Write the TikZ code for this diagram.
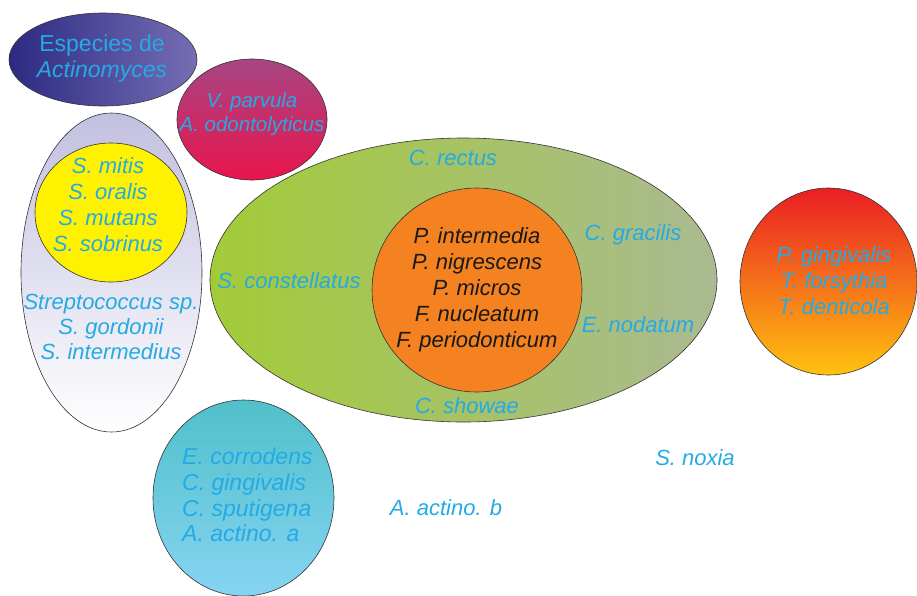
\documentclass[tikz,border=0pt]{standalone}
\usepackage{fontspec}
\setmainfont{Liberation Sans}
\usetikzlibrary{shapes.geometric}
\definecolor{txtcyan}{RGB}{36,170,228}
\definecolor{actL}{RGB}{44,42,130}
\definecolor{actR}{RGB}{118,110,180}
\definecolor{vpT}{RGB}{166,70,132}
\definecolor{vpB}{RGB}{234,20,76}
\definecolor{lav}{RGB}{194,192,224}
\definecolor{yel}{RGB}{255,242,0}
\definecolor{grnL}{RGB}{163,203,56}
\definecolor{grnR}{RGB}{170,186,146}
\definecolor{org}{RGB}{244,130,32}
\definecolor{redT}{RGB}{234,30,36}
\definecolor{redB}{RGB}{255,194,16}
\definecolor{cyT}{RGB}{80,192,202}
\definecolor{cyB}{RGB}{134,212,242}
\tikzset{
  blob/.style={ellipse, draw=black!80, line width=0.6pt, inner sep=0pt},
  lbl/.style={text=txtcyan, font=\fontsize{22}{26}\selectfont\itshape, inner sep=0pt, align=center},
  dlbl/.style={text=black!90, font=\fontsize{22}{26}\selectfont\itshape, inner sep=0pt, align=center}
}
\begin{document}
\begin{tikzpicture}[x=1pt,y=-1pt]
\useasboundingbox (0,0) rectangle (917,595);
\clip (0,0) rectangle (917,595);
% shapes
\node[blob, left color=actL, right color=actR, minimum width=188pt, minimum height=93pt] (act) at (103,59.5) {};
\node[blob, top color=vpT, bottom color=vpB, minimum width=150pt, minimum height=121pt] (vp) at (252,119.5) {};
\node[blob, top color=lav, middle color=white, bottom color=white, minimum width=181pt, minimum height=319pt] (strep) at (111.5,272.5) {};
\node[blob, fill=yel, minimum width=152pt, minimum height=139pt] (yel) at (111,212.5) {};
\node[blob, left color=grnL, right color=grnR, minimum width=507pt, minimum height=284pt] (grn) at (463.5,280) {};
\node[blob, fill=org, minimum width=210pt, minimum height=204pt] (org) at (477,290) {};
\node[blob, top color=redT, bottom color=redB, minimum width=177pt, minimum height=187pt] (red) at (828.5,281.5) {};
\node[blob, top color=cyT, bottom color=cyB, minimum width=181pt, minimum height=196pt] (cy) at (243.5,498) {};
% texts
\node[lbl, font=\fontsize{23}{26}\selectfont] (tact) at (102,59) {Especies de\\\textit{Actinomyces}};
\node[lbl, font=\fontsize{20.5}{23.5}\selectfont\itshape] (tvp) at (252,114) {V. parvula\\A. odontolyticus};
\node[lbl] (tyel) at (108,205) {S. mitis\\S. oralis\\S. mutans\\S. sobrinus};
\node[lbl, font=\fontsize{22}{25}\selectfont\itshape] (tstrep) at (111,327) {Streptococcus sp.\\S. gordonii\\S. intermedius};
\node[dlbl] (torg) at (477,289.5) {P. intermedia\\P. nigrescens\\P. micros\\F. nucleatum\\F. periodonticum};
\node[lbl] (tred) at (834,281) {P. gingivalis\\T. forsythia\\T. denticola};
\node[lbl, font=\fontsize{23}{25.7}\selectfont\itshape, align=left, anchor=west] (tcy) at (182,495) {E. corrodens\\C. gingivalis\\C. sputigena\\A. actino. a};
\node[lbl, anchor=base] (trect) at (453,165) {C. rectus};
\node[lbl, anchor=base] (tgrac) at (633,240) {C. gracilis};
\node[lbl, anchor=base] (tcons) at (289,288) {S. constellatus};
\node[lbl, anchor=base] (tnod) at (638,332) {E. nodatum};
\node[lbl, anchor=base] (tshow) at (467,413) {C. showae};
\node[lbl, anchor=base] (tnox) at (695,465) {S. noxia};
\node[lbl, anchor=base] (tact2) at (446,515) {A. actino. b};
\end{tikzpicture}
\end{document}
